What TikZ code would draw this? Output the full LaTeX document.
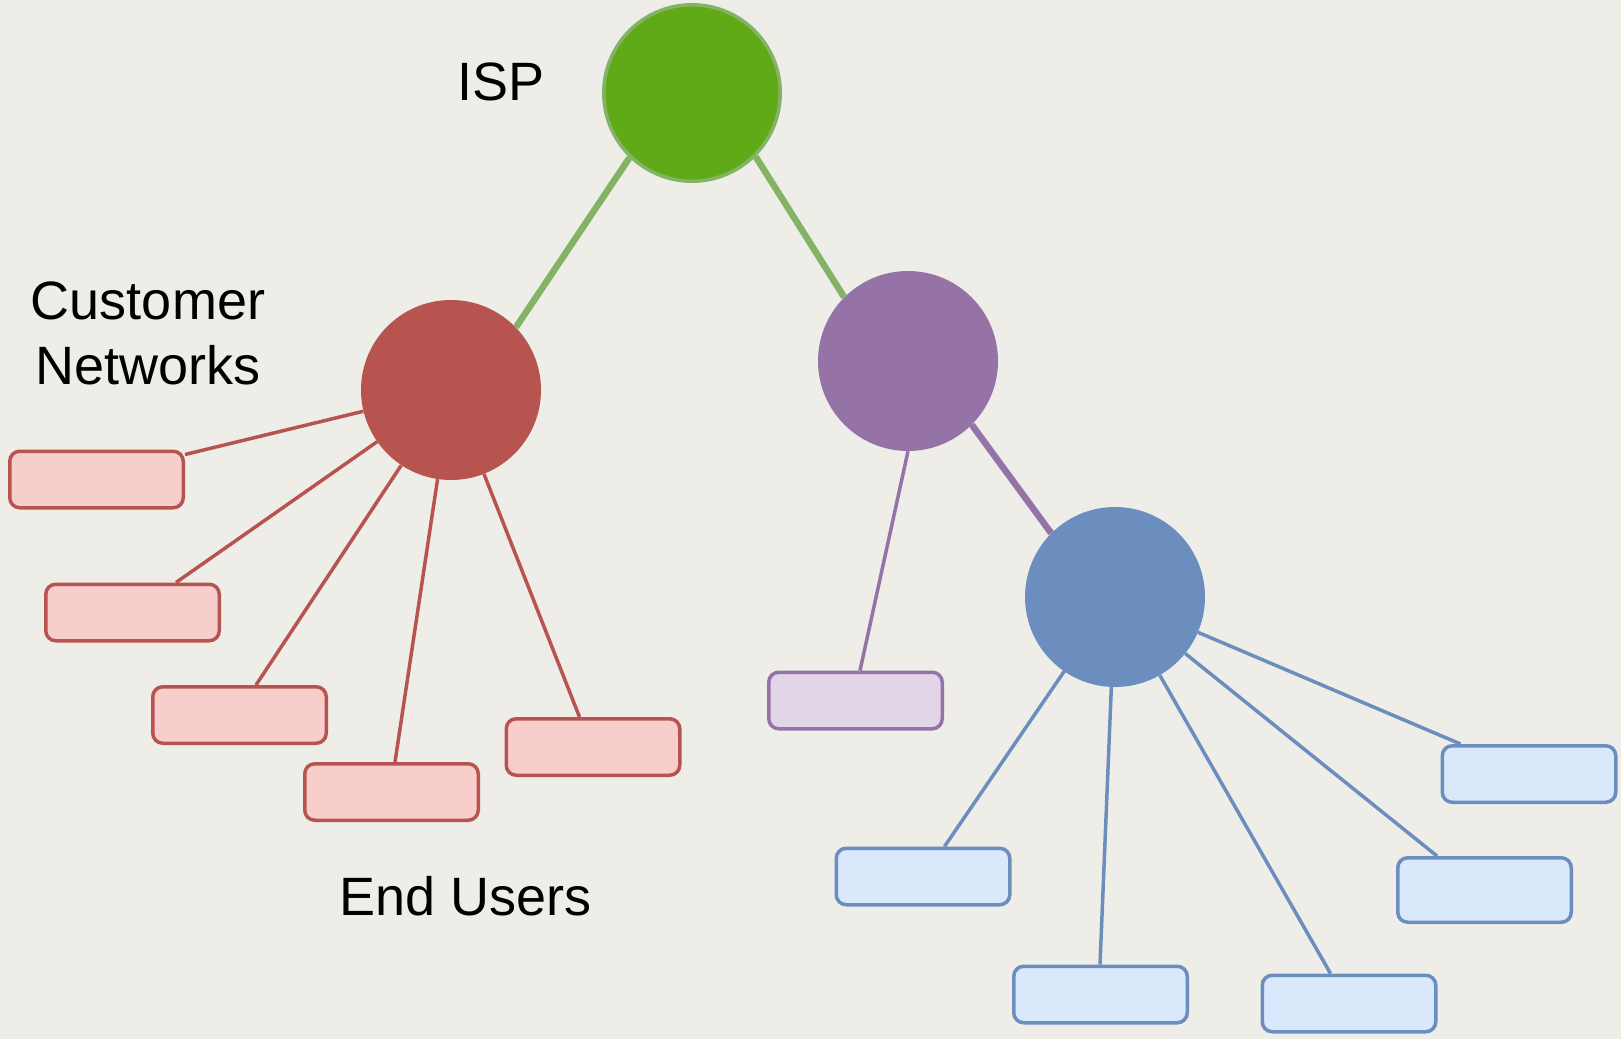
\documentclass[tikz,border=0pt]{standalone}
\usepackage{fontspec}
\setmainfont{Liberation Sans}
\usetikzlibrary{calc}

\definecolor{bgc}{HTML}{EEEDE8}
\definecolor{ispfill}{HTML}{60A917}
\definecolor{ispline}{HTML}{82B366}
\definecolor{redfill}{HTML}{B85450}
\definecolor{redbox}{HTML}{F8CECC}
\definecolor{purfill}{HTML}{9673A6}
\definecolor{purbox}{HTML}{E1D5E7}
\definecolor{bluefill}{HTML}{6C8EBF}
\definecolor{bluebox}{HTML}{DAE8FC}

\begin{document}
\begin{tikzpicture}[x=1pt,y=-1pt,
  hub/.style={circle, minimum size=180, inner sep=0, draw=none},
  leaf/.style={rectangle, rounded corners=10, minimum width=173.5, minimum height=56.5, line width=3.5, inner sep=0},
  redleaf/.style={leaf, fill=redbox, draw=redfill},
  purleaf/.style={leaf, fill=purbox, draw=purfill},
  blueleaf/.style={leaf, fill=bluebox, draw=bluefill},
  trunk/.style={line width=6.5},
  twig/.style={line width=3.5},
  lbl/.style={font=\fontsize{54}{65}\selectfont, inner sep=0, text=black}
]
% canvas
\fill[bgc] (0,0) rectangle (1621,1039);
\useasboundingbox (0,0) rectangle (1621,1039);

% hubs
\node[hub, fill=ispfill, draw=ispline, line width=3.5, minimum size=176.5] (isp) at (692,93) {};
\node[hub, fill=redfill] (red) at (451,390) {};
\node[hub, fill=purfill] (pur) at (908,361) {};
\node[hub, fill=bluefill] (blue) at (1115,597) {};

% end-user boxes
\node[redleaf] (r1) at (96.5,479.5) {};
\node[redleaf] (r2) at (132.5,612.5) {};
\node[redleaf] (r3) at (239.5,715) {};
\node[redleaf] (r4) at (391.5,792) {};
\node[redleaf] (r5) at (593,747) {};
\node[purleaf] (p1) at (855.5,700.5) {};
\node[blueleaf] (b1) at (923,876.5) {};
\node[blueleaf] (b2) at (1100.5,994.5) {};
\node[blueleaf] (b3) at (1349,1003.5) {};
\node[blueleaf, minimum height=64.5] (b4) at (1484.5,890) {};
\node[blueleaf] (b5) at (1529,774) {};

% backbone links
\draw[trunk, ispline] (isp.226) -- (red.44);
\draw[trunk, ispline] (isp.315) -- (pur.135);
\draw[trunk, purfill] (pur.315) -- (blue.135);

% customer links
\draw[twig, redfill] (red) -- ([yshift=-5]r1.north east);
\draw[twig, redfill] (red) -- ([xshift=132]r2.north west);
\draw[twig, redfill] (red) -- ([xshift=105]r3.north west);
\draw[twig, redfill] (red) -- ([xshift=92]r4.north west);
\draw[twig, redfill] (red) -- ([xshift=75]r5.north west);
\draw[twig, purfill] (pur.270) -- ([xshift=93]p1.north west);
\draw[twig, bluefill] (blue) -- ([xshift=110]b1.north west);
\draw[twig, bluefill] (blue) -- ([xshift=88]b2.north west);
\draw[twig, bluefill] (blue) -- ([xshift=70]b3.north west);
\draw[twig, bluefill] (blue) -- ([xshift=41]b4.north west);
\draw[twig, bluefill] (blue) -- ([xshift=20]b5.north west);

% labels
\node[lbl, anchor=base] (tisp) at (501,100) {ISP};
\node[lbl, align=center] (tcust) at (148,333.5) {Customer\\Networks};
\node[lbl, anchor=base] (tend) at (466,915) {End Users};
\end{tikzpicture}
\end{document}
